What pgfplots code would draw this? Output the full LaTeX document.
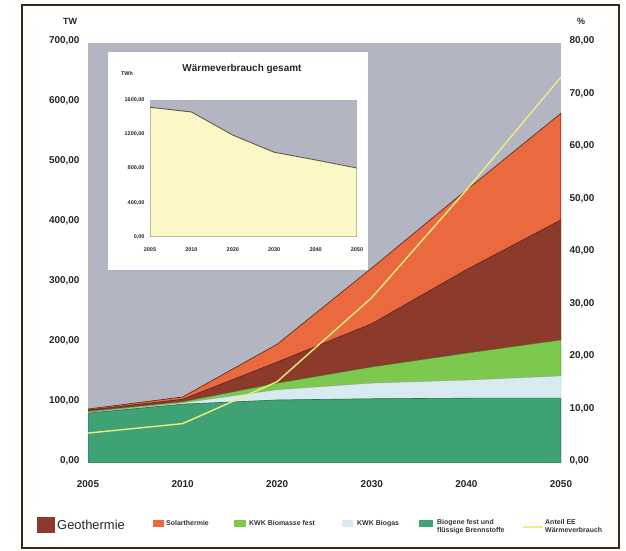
\documentclass[border=0pt]{standalone}
\usepackage{fontspec}
\setmainfont{Liberation Sans}
\usepackage{pgfplots}
\pgfplotsset{compat=1.18}

\definecolor{bggrey}{HTML}{B3B6C2}
\definecolor{biogene}{HTML}{3FA274}
\definecolor{biogas}{HTML}{D6EAF0}
\definecolor{biomasse}{HTML}{7DC950}
\definecolor{geo}{HTML}{8B3A2C}
\definecolor{solar}{HTML}{EA693E}
\definecolor{anteil}{HTML}{EDED80}
\definecolor{insetfill}{HTML}{FBF7C6}
\definecolor{insetline}{HTML}{5E5A3E}
\definecolor{frame}{HTML}{3B2A1A}

\pgfplotsset{
  numfmt/.style={
    /pgf/number format/fixed,
    /pgf/number format/fixed zerofill,
    /pgf/number format/precision=2,
    /pgf/number format/use comma,
    /pgf/number format/1000 sep={},
    /pgf/number format/assume math mode=true},
}

\begin{document}
\begin{tikzpicture}
\useasboundingbox (0,0) rectangle (626bp,551bp);
\fill[white] (0,0) rectangle (626bp,551bp);

% main stacked areas, left axis in TW
\begin{axis}[
  at={(88bp,88bp)}, anchor=south west,
  width=473bp, height=420bp, scale only axis,
  xmin=0, xmax=5, ymin=0, ymax=700,
  xtick={0,...,5}, xticklabels={2005,2010,2020,2030,2040,2050},
  ytick={0,100,...,700},
  axis line style={draw=none}, major tick length=0pt,
  axis background/.style={fill=bggrey},
  ticklabel style={font=\fontsize{10}{11}\selectfont\bfseries, text=black!85},
  xticklabel style={yshift=-14bp},
  yticklabel style={xshift=-5bp, yshift=2bp},
  numfmt,
  stack plots=y,
]
\addplot[fill=biogene, draw=biogene!70!black, line width=0.6pt] coordinates {
  (0,83) (1,98) (2,105) (3,107) (4,108) (5,108)} \closedcycle;
\addplot[fill=biogas, draw=biogas!80!black, line width=0.4pt] coordinates {
  (0,1) (1,2) (2,17) (3,26) (4,30) (5,37)} \closedcycle;
\addplot[fill=biomasse, draw=biomasse!60!black, line width=0.4pt] coordinates {
  (0,2) (1,2) (2,11) (3,27) (4,45) (5,60)} \closedcycle;
\addplot[fill=geo, draw=geo!70!black, line width=0.5pt] coordinates {
  (0,2) (1,4) (2,35) (3,72) (4,139) (5,200)} \closedcycle;
\addplot[fill=solar, draw=geo!60!black, line width=0.6pt] coordinates {
  (0,2) (1,4) (2,30) (3,93) (4,133) (5,178)} \closedcycle;
\end{axis}

% share of renewables, right axis in %
\begin{axis}[
  at={(88bp,88bp)}, anchor=south west,
  width=473bp, height=420bp, scale only axis,
  xmin=0, xmax=5, ymin=0, ymax=80,
  axis x line=none, axis y line*=right,
  ytick={0,10,...,80},
  axis line style={draw=none}, major tick length=0pt,
  ticklabel style={font=\fontsize{10}{11}\selectfont\bfseries, text=black!85},
  yticklabel style={xshift=5bp, yshift=2bp},
  numfmt,
]
\addplot[color=anteil, line width=1.4pt] coordinates {
  (0,5.7) (1,7.5) (2,15.5) (3,31.5) (4,52) (5,73.5)};
\end{axis}

% inset: total heat consumption
\fill[white] (108bp,281bp) rectangle (368bp,499bp);
\begin{axis}[
  at={(150bp,314bp)}, anchor=south west,
  width=207bp, height=137bp, scale only axis,
  xmin=0, xmax=5, ymin=0, ymax=1600,
  xtick={0,...,5}, xticklabels={2005,2010,2020,2030,2040,2050},
  ytick={0,400,...,1600},
  axis line style={draw=none}, major tick length=0pt,
  axis background/.style={fill=bggrey},
  ticklabel style={font=\fontsize{5.5}{6}\selectfont\bfseries, text=black!85},
  xticklabel style={yshift=-7bp},
  yticklabel style={xshift=-2bp},
  numfmt,
]
\addplot[fill=insetfill, draw=insetline, line width=0.9pt] coordinates {
  (0,1515) (1,1460) (2,1190) (3,990) (4,900) (5,805)} \closedcycle;
\end{axis}
\node[font=\fontsize{10}{11}\selectfont\bfseries, text=black!85] at (242bp,482bp) {Wärmeverbrauch gesamt};
\node[font=\fontsize{5.5}{6}\selectfont\bfseries, text=black!85] at (127bp,477bp) {TWh};

% axis units
\node[font=\fontsize{9}{10}\selectfont\bfseries, text=black!85] at (70bp,530bp) {TW};
\node[font=\fontsize{9}{10}\selectfont\bfseries, text=black!85] at (581bp,530bp) {\%};

% legend
\fill[geo] (37bp,18bp) rectangle (55bp,34bp);
\node[anchor=west, inner sep=0pt, font=\fontsize{13}{14}\selectfont, text=black!85] at (57bp,26bp) {Geothermie};
\begin{scope}[every node/.style={anchor=west, inner sep=0pt, font=\fontsize{7}{8.5}\selectfont\bfseries, text=black!80, align=left}]
\fill[solar] (153bp,24bp) rectangle (164bp,31bp);
\node at (166bp,27.5bp) {Solarthermie};
\fill[biomasse] (234bp,24bp) rectangle (246bp,31bp);
\node at (249bp,27.5bp) {KWK Biomasse fest};
\fill[biogas] (342bp,24bp) rectangle (353bp,31bp);
\node at (357bp,27.5bp) {KWK Biogas};
\fill[biogene] (419bp,24bp) rectangle (433bp,31bp);
\node[anchor=north west] at (437bp,32bp) {Biogene fest und\\flüssige Brennstoffe};
\draw[anteil, line width=1.2pt] (523bp,24bp) -- (543bp,24bp);
\node[anchor=north west] at (545bp,32bp) {Anteil EE\\Wärmeverbrauch};
\end{scope}

% outer frame
\draw[frame, line width=1.2pt] (22bp,3bp) rectangle (619bp,546bp);
\end{tikzpicture}
\end{document}
